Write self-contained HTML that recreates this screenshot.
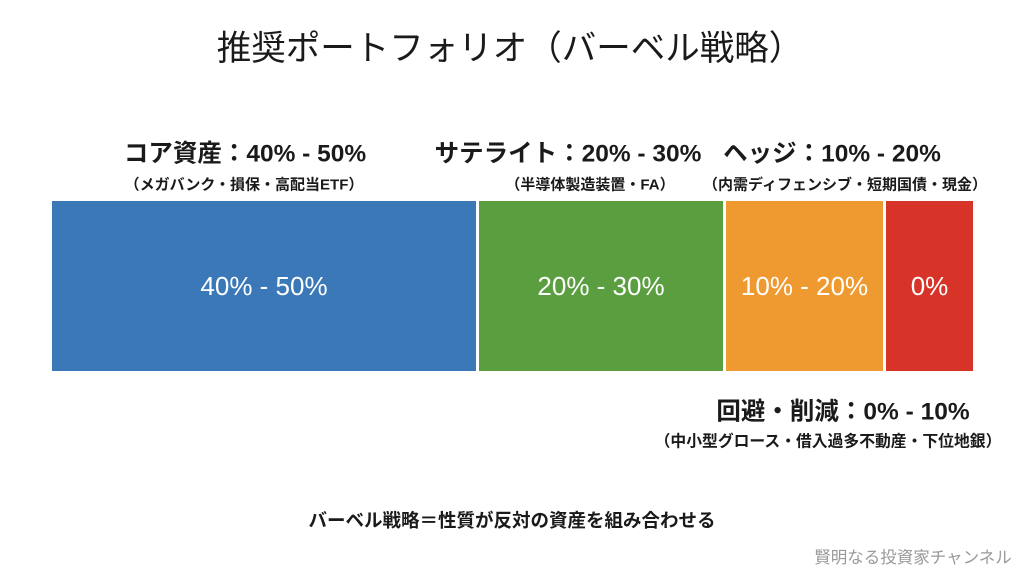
<!DOCTYPE html>
<html><head><meta charset="utf-8"><style>
body{margin:0;width:1024px;height:572px;background:#fff;position:relative;overflow:hidden;font-family:"Liberation Sans","Noto Sans CJK JP",sans-serif;color:#1a1a1a}
.t{position:absolute;white-space:nowrap;transform:translate(-50%,-50%)}
.bar{position:absolute;top:201px;height:170px;color:#fff;font-size:26px;display:flex;align-items:center;justify-content:center}
.h{font-size:24.5px;font-weight:bold}
.s{font-size:15px;font-weight:bold}
</style></head><body>
<div class="t" style="left:510px;top:45px;font-size:34.5px">推奨ポートフォリオ（バーベル戦略）</div>
<div class="t h" style="left:245px;top:152px">コア資産：40% - 50%</div>
<div class="t s" style="left:244px;top:184px">（メガバンク・損保・高配当ETF）</div>
<div class="t h" style="left:568px;top:152px">サテライト：20% - 30%</div>
<div class="t s" style="left:590px;top:184px">（半導体製造装置・FA）</div>
<div class="t h" style="left:832px;top:152px">ヘッジ：10% - 20%</div>
<div class="t s" style="left:845px;top:184px">（内需ディフェンシブ・短期国債・現金）</div>
<div class="bar" style="left:52px;width:424px;background:#3a78b8">40% - 50%</div>
<div class="bar" style="left:479px;width:244px;background:#5a9e40">20% - 30%</div>
<div class="bar" style="left:726px;width:157px;background:#ef9a30">10% - 20%</div>
<div class="bar" style="left:886px;width:87px;background:#d83328">0%</div>
<div class="t h" style="left:843px;top:410px">回避・削減：0% - 10%</div>
<div class="t s" style="left:828px;top:440px;font-size:15.8px">（中小型グロース・借入過多不動産・下位地銀）</div>
<div class="t" style="left:512px;top:520px;font-size:18.5px;font-weight:bold">バーベル戦略＝性質が反対の資産を組み合わせる</div>
<div class="t" style="left:913px;top:556px;font-size:16.5px;color:#999">賢明なる投資家チャンネル</div>
</body></html>
